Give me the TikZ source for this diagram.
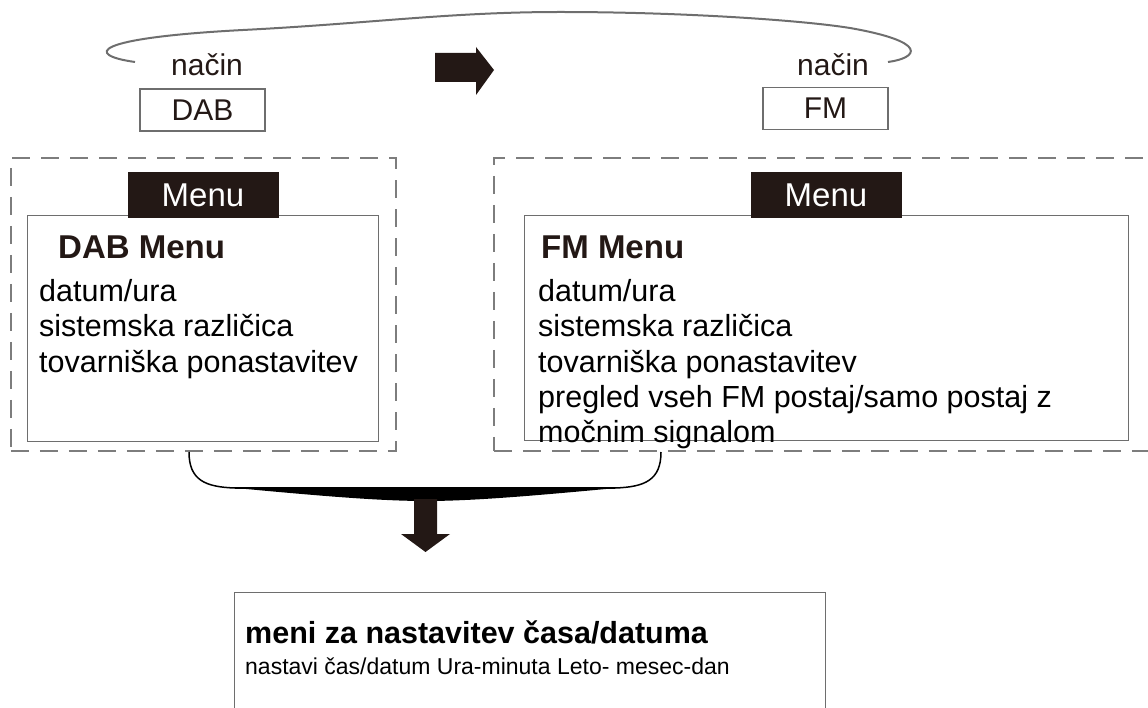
\documentclass[tikz,border=0pt]{standalone}
\usepackage{fontspec}
\setmainfont{Liberation Sans}
\usetikzlibrary{positioning}
\definecolor{ink}{RGB}{35,24,21}
\definecolor{dashgray}{RGB}{125,125,125}
\definecolor{linegray}{RGB}{110,110,110}

\tikzset{
  modebox/.style={draw=linegray, line width=1.3pt, minimum width=125pt, minimum height=42pt, inner sep=0pt, text=ink, font=\fontsize{30}{30}\selectfont},
  modelabel/.style={anchor=base, inner sep=0pt, text=ink, font=\fontsize{30}{30}\selectfont},
  groupbox/.style={draw=dashgray, line width=1.8pt, dash pattern=on 18pt off 11pt, anchor=north west, inner sep=0pt},
  menubox/.style={draw=linegray, line width=1.2pt, fill=white, anchor=north west, inner sep=0pt},
  menutab/.style={fill=ink, text=white, minimum width=151pt, minimum height=46pt, inner sep=0pt, font=\fontsize{33}{33}\selectfont},
  menutitle/.style={anchor=base west, inner sep=0pt, text=ink, font=\fontsize{33}{33}\selectfont\bfseries},
  itemtext/.style={anchor=base west, inner sep=0pt, font=\fontsize{30.5}{30.5}\selectfont},
}

\begin{document}
\begin{tikzpicture}[x=1pt,y=1pt,yscale=-1]
\useasboundingbox (0,0) rectangle (1148,708);

%Mode switch
\node[modebox] (dabmode) at (202.5,110) {DAB};
\node[modebox] (fmmode) at (825.5,108.5) {FM};
\node[modelabel] (dablabel) at (207,76) {način};
\node[modelabel] (fmlabel) at (833,76) {način};
\coordinate (loopL) at (135,62);
\coordinate (loopR) at (888,62);
\draw[linegray, line width=2pt] (loopL) .. controls (85,55) and (90,38) .. (243,30) .. controls (370,23.5) and (450,12) .. (560,12) .. controls (680,12) and (800,20) .. (850,28) .. controls (930,42) and (918,58) .. (loopR);
%Shape: right arrow
\fill[ink] (435,53) -- (476,53) -- (476,47) -- (494,70) -- (476,95) -- (476,82) -- (435,82) -- cycle;

%DAB group
\node[groupbox, minimum width=385pt, minimum height=293pt] (dabgroup) at (10,157) {};
\node[menubox, minimum width=351pt, minimum height=226pt] (dabmenu) at (27,215) {};
\node[menutab] (dabtab) at (203,195) {Menu};
\node[menutitle] (dabtitle) at (58,259) {DAB Menu};
\foreach \txt [count=\i] in {datum/ura, sistemska različica, tovarniška ponastavitev}
  \node[itemtext] (dabitem\i) at (39,267+35*\i) {\txt};

%FM group
\node[groupbox, minimum width=700pt, minimum height=293pt] (fmgroup) at (493,157) {};
\node[menubox, minimum width=604pt, minimum height=225pt] (fmmenu) at (524,215) {};
\node[menutab] (fmtab) at (826,195) {Menu};
\node[menutitle] (fmtitle) at (541,259) {FM Menu};
\foreach \txt [count=\i] in {datum/ura, sistemska različica, tovarniška ponastavitev, pregled vseh FM postaj/samo postaj z, močnim signalom}
  \node[itemtext] (fmitem\i) at (538,267+35*\i) {\txt};

%Bracket joining both groups
\coordinate (brL) at (189,452);
\coordinate (brR) at (661,452);
\draw[black, line width=1.5pt] (brL) .. controls (189,480) and (205,487) .. (235,488) -- (615,488) .. controls (645,487) and (661,480) .. (brR);
\fill[black] (225,487) .. controls (320,496) and (380,501) .. (426,501) .. controls (472,501) and (532,496) .. (627,487) -- cycle;
%Shape: down arrow
\fill[ink] (414,499) -- (437,499) -- (437,534) -- (450,534) -- (425.5,552) -- (401,534) -- (414,534) -- cycle;

%Time menu
\node[menubox, minimum width=591pt, minimum height=140pt] (timemenu) at (234,592) {};
\node[anchor=base west, inner sep=0pt, font=\fontsize{30.5}{30.5}\selectfont\bfseries] (timetitle) at (245,643) {meni za nastavitev časa/datuma};
\node[anchor=base west, inner sep=0pt, font=\fontsize{23}{23}\selectfont] (timeitem) at (245,674) {nastavi čas/datum Ura-minuta Leto- mesec-dan};

\end{tikzpicture}
\end{document}
